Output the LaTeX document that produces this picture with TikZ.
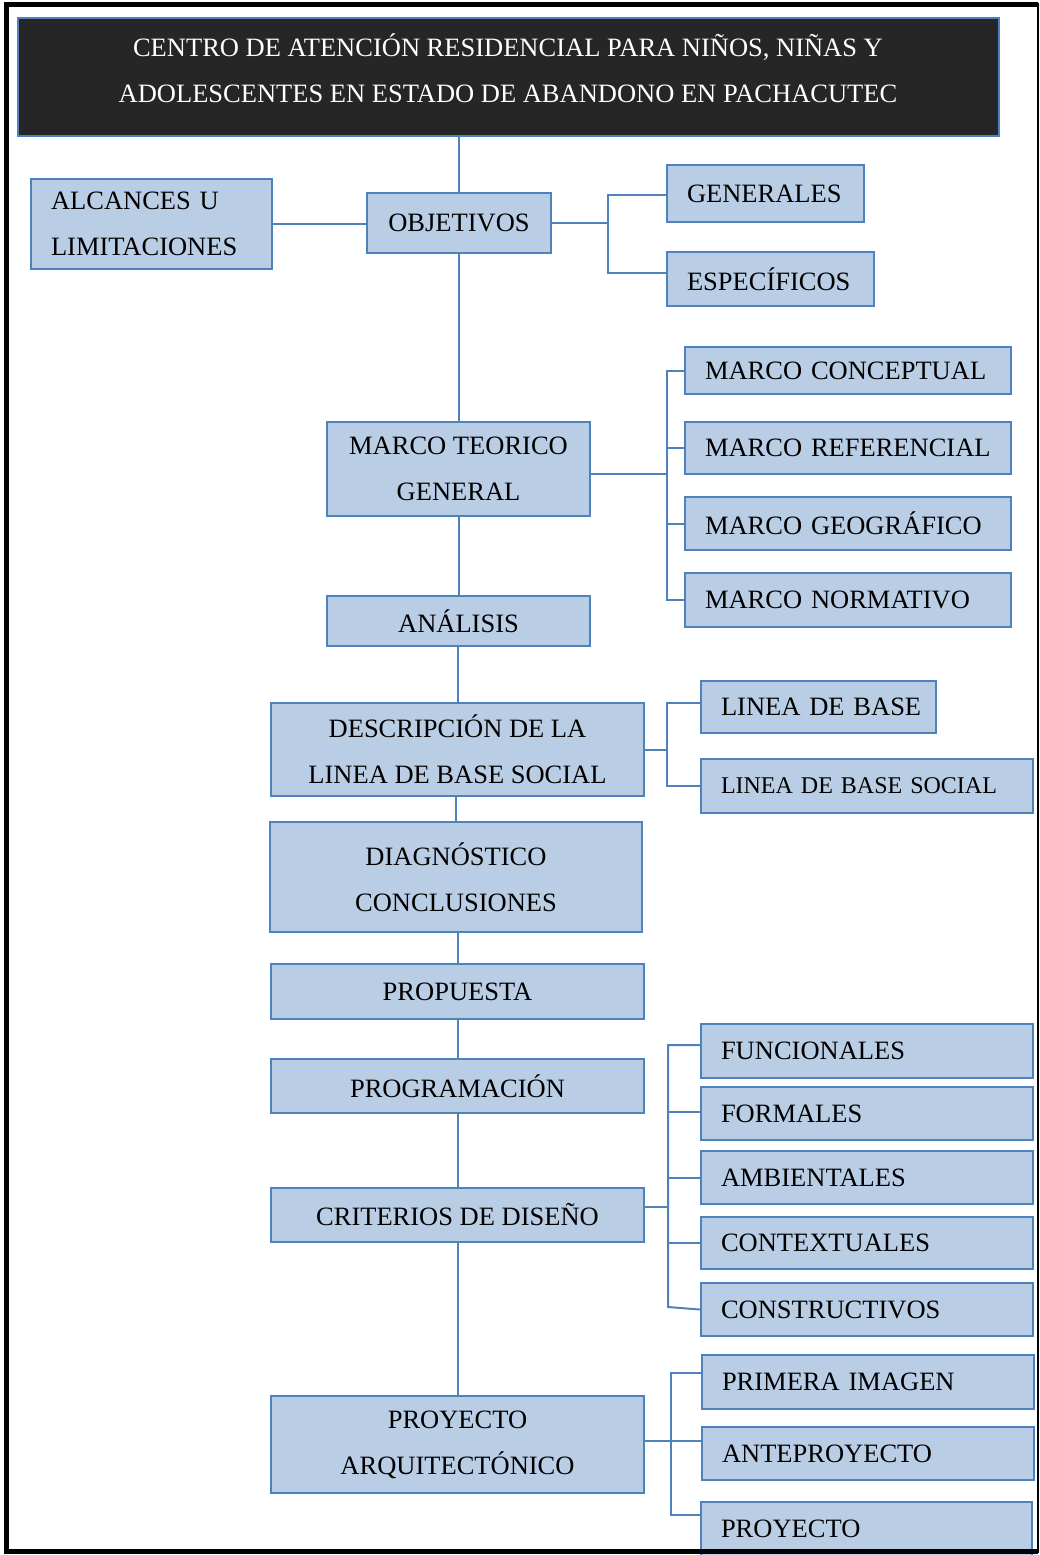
\documentclass[tikz,border=0pt]{standalone}
\usepackage{fontspec}
\setmainfont{Liberation Serif}
\usepackage{xcolor}
\usetikzlibrary{calc}
\definecolor{borde}{RGB}{79,129,189}
\definecolor{relleno}{RGB}{185,205,229}
\definecolor{fondotitulo}{RGB}{38,38,38}

\begin{document}
\begin{tikzpicture}[x=1pt, y=-1pt,
		caja/.style={draw=borde, fill=relleno, line width=2pt, align=center, font=\fontsize{26.5pt}{46pt}\selectfont},
		hoja/.style={caja, align=left, inner xsep=20pt, text width=#1},
		linea/.style={draw=borde, line width=2pt}]
				  \useasboundingbox (0,0) rectangle (1040,1555);
				  \node[caja, fill=fondotitulo, minimum width=981pt, minimum height=118pt] (titulo) at (508.5,77) {};
				  \node[caja, draw=none, fill=none, text=white] (titulotexto) at (508,68) {CENTRO DE ATENCIÓN RESIDENCIAL PARA NIÑOS, NIÑAS Y\\ADOLESCENTES EN ESTADO DE ABANDONO EN PACHACUTEC};
				  \node[hoja=201pt, minimum height=90pt] (alcances) at (151.5,224) {ALCANCES U\\LIMITACIONES};
				  \node[caja, minimum width=184pt, minimum height=60pt] (objetivos) at (459,223) {OBJETIVOS};
				  \node[hoja=157pt, minimum height=57pt] (generales) at (765.5,193.5) {GENERALES};
				  \node[hoja=167pt, minimum height=54pt] (especificos) at (770.5,279) {ESPECÍFICOS};
				  \node[caja, minimum width=263pt, minimum height=94pt] (marcoteorico) at (458.5,469) {MARCO TEORICO\\GENERAL};
				  \node[hoja=286pt, minimum height=47pt] (conceptual) at (848,370.5) {MARCO~CONCEPTUAL};
				  \node[hoja=286pt, minimum height=52pt] (referencial) at (848,448) {MARCO~REFERENCIAL};
				  \node[hoja=286pt, minimum height=53pt] (geografico) at (848,523.5) {MARCO~GEOGRÁFICO};
				  \node[hoja=286pt, minimum height=54pt] (normativo) at (848,600) {MARCO~NORMATIVO};
				  \node[caja, minimum width=263pt, minimum height=50pt] (analisis) at (458.5,621) {ANÁLISIS};
				  \node[caja, minimum width=373pt, minimum height=93pt] (descripcion) at (457.5,749.5) {DESCRIPCIÓN DE LA\\LINEA DE BASE SOCIAL};
				  \node[hoja=195pt, minimum height=52pt] (lineabase) at (818.5,707) {LINEA~DE~BASE};
				  \node[hoja=292pt, minimum height=54pt, font=\fontsize{24pt}{46pt}\selectfont] (lineasocial) at (867,786) {LINEA~DE~BASE~SOCIAL};
				  \node[caja, minimum width=372pt, minimum height=110pt] (diagnostico) at (456,877) {DIAGNÓSTICO\\CONCLUSIONES};
				  \node[caja, minimum width=373pt, minimum height=55pt] (propuesta) at (457.5,991.5) {PROPUESTA};
				  \node[caja, minimum width=373pt, minimum height=54pt] (programacion) at (457.5,1086) {PROGRAMACIÓN};
				  \node[caja, minimum width=373pt, minimum height=54pt] (criterios) at (457.5,1215) {CRITERIOS DE DISEÑO};
				  \node[hoja=292pt, minimum height=54pt] (funcionales) at (867,1051) {FUNCIONALES};
				  \node[hoja=292pt, minimum height=53pt] (formales) at (867,1113.5) {FORMALES};
				  \node[hoja=292pt, minimum height=53pt] (ambientales) at (867,1177.5) {AMBIENTALES};
				  \node[hoja=292pt, minimum height=52pt] (contextuales) at (867,1243) {CONTEXTUALES};
				  \node[hoja=292pt, minimum height=53pt] (constructivos) at (867,1309.5) {CONSTRUCTIVOS};
				  \node[caja, minimum width=373pt, minimum height=97pt] (proyectoarq) at (457.5,1444.5) {PROYECTO\\ARQUITECTÓNICO};
				  \node[hoja=292pt, minimum height=54pt] (primera) at (868,1382) {PRIMERA~IMAGEN};
				  \node[hoja=292pt, minimum height=53pt] (anteproyecto) at (868,1453.5) {ANTEPROYECTO};
				  \node[hoja=291pt, minimum height=54pt] (proyecto) at (866.5,1529) {PROYECTO};
				  \draw[linea] (titulo.south -| objetivos.north) -- (objetivos.north);
				  \foreach \a/\b in {objetivos/marcoteorico, marcoteorico/analisis, analisis/descripcion, descripcion/diagnostico, diagnostico/propuesta, propuesta/programacion, programacion/criterios, criterios/proyectoarq}
				  	\draw[linea] (\b.north) ++(0,0) coordinate (tmp) (\a.south -| tmp) -- (tmp);
				  \draw[linea] (alcances.east) -- (alcances.east -| objetivos.west);
				  \coordinate (bobj) at (608,223);
				  \draw[linea] (objetivos.east) -- (bobj);
				  \draw[linea] ([yshift=-1.5pt]generales.west) -| (bobj) |- ([yshift=6pt]especificos.west);
				  \coordinate (bmarco) at (667,474);
				  \draw[linea] (marcoteorico.east |- bmarco) -- (bmarco);
				  \draw[linea] (conceptual.west) -| (bmarco) |- (normativo.west);
				  \draw[linea] (referencial.west) -- (referencial.west -| bmarco);
				  \draw[linea] (geografico.west) -- (geografico.west -| bmarco);
				  \coordinate (blinea) at (667,750);
				  \draw[linea] (descripcion.east |- blinea) -- (blinea);
				  \draw[linea] ([yshift=4pt]lineabase.west) -| (blinea) |- (lineasocial.west);
				  \coordinate (bcrit) at (668,1207);
				  \coordinate (ccrit) at (668,1307);
				  \draw[linea] (criterios.east |- bcrit) -- (bcrit);
				  \draw[linea] ([yshift=6pt]funcionales.west) -| (ccrit) -- (constructivos.west);
				  \foreach \n/\d in {formales/1.5, ambientales/0, contextuales/0}
				  	\draw[linea] ([yshift=\d pt]\n.west) -- ([yshift=\d pt]\n.west -| bcrit);
				  \coordinate (bproy) at (671,1441);
				  \draw[linea] (proyectoarq.east |- bproy) -- (bproy);
				  \draw[linea] ([yshift=9pt]primera.west) -| (bproy) |- ([yshift=14pt]proyecto.west);
				  \draw[linea] ([yshift=12.5pt]anteproyecto.west) -- ([yshift=12.5pt]anteproyecto.west -| bproy);
				  \draw[line width=5pt] (1038,4.5) -- (6.5,4.5) -- (6.5,1551.5) -- (1038,1551.5);
				  \draw[line width=2pt] (1038,3) -- (1038,1553);
				\end{tikzpicture}
\end{document}
